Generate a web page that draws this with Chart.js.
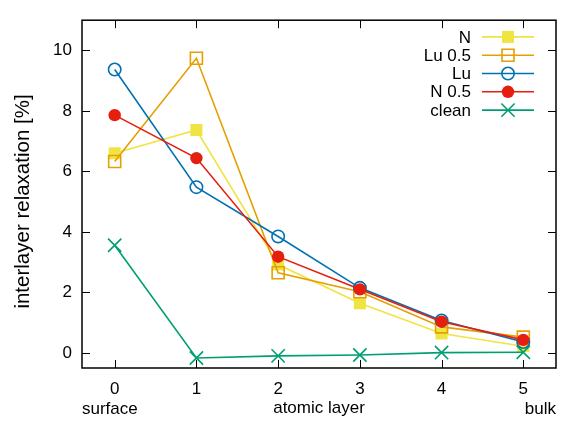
<!DOCTYPE html>
<html>
<head>
<meta charset="utf-8">
<script src="https://cdn.jsdelivr.net/npm/chart.js@4.4.0/dist/chart.umd.min.js"></script>
<style>
  html, body { margin: 0; padding: 0; background: #fff; }
  #wrap { width: 567px; height: 424px; }
</style>
</head>
<body>
<div id="wrap"><canvas id="relax-chart"></canvas></div>
<script>
// atomic layers (x) and tick labels
const layers = [0, 1, 2, 3, 4, 5];
const xTickLabels = ['0', '1', '2', '3', '4', '5'];
const yTickValues = [0, 2, 4, 6, 8, 10];

// series, in legend order
const seriesNames = ['N', 'Lu 0.5', 'Lu', 'N 0.5', 'clean'];
const nValues     = [6.6, 7.37, 2.92, 1.64, 0.64, 0.22];
const lu05Values  = [6.33, 9.74, 2.65, 2.02, 0.86, 0.52];
const luValues    = [9.37, 5.48, 3.85, 2.15, 1.07, 0.36];
const n05Values   = [7.86, 6.44, 3.18, 2.10, 1.03, 0.43];
const cleanValues = [3.56, -0.17, -0.10, -0.07, 0.01, 0.02];

const FONT = "'Liberation Sans', Arial, sans-serif";
Chart.defaults.font.family = FONT;
Chart.defaults.font.size = 17;
Chart.defaults.color = '#000';

// marker / line styles for each series
const styles = [
  { color: '#f0e442', shape: 'rect',     radius: 8.5, filled: true },
  { color: '#e69f00', shape: 'rect',     radius: 8.5, filled: false },
  { color: '#0072b2', shape: 'circle',   radius: 6.2, filled: false },
  { color: '#e51e10', shape: 'circle',   radius: 6.2, filled: true },
  { color: '#009e73', shape: 'crossRot', radius: 9.4, filled: false }
];
const allValues = [nValues, lu05Values, luValues, n05Values, cleanValues];

function toPoints(values) {
  return layers.map((x, i) => ({ x: x, y: values[i] }));
}

const datasets = seriesNames.map((name, i) => {
  const s = styles[i];
  return {
    label: name,
    data: toPoints(allValues[i]),
    borderColor: s.color,
    borderWidth: 1.6,
    pointStyle: s.shape,
    pointRadius: s.radius,
    pointBorderColor: s.color,
    pointBackgroundColor: s.filled ? s.color : 'rgba(0,0,0,0)',
    pointBorderWidth: s.filled ? 0 : 1.6,
    tension: 0,
    order: seriesNames.length - i // later series drawn on top
  };
});

// simple marker drawer, used for the legend samples
function drawMarker(ctx, s, x, y) {
  ctx.save();
  ctx.strokeStyle = s.color;
  ctx.fillStyle = s.color;
  ctx.lineWidth = 1.6;
  ctx.beginPath();
  if (s.shape === 'rect') {
    const h = s.radius * Math.SQRT1_2;
    ctx.rect(x - h, y - h, 2 * h, 2 * h);
  } else if (s.shape === 'circle') {
    ctx.arc(x, y, s.radius, 0, Math.PI * 2);
  } else {
    const d = s.radius * Math.SQRT1_2;
    ctx.moveTo(x - d, y - d); ctx.lineTo(x + d, y + d);
    ctx.moveTo(x - d, y + d); ctx.lineTo(x + d, y - d);
  }
  if (s.filled) ctx.fill(); else ctx.stroke();
  ctx.restore();
}

const framePlugin = {
  id: 'gnuplotFrame',
  afterDraw(chart) {
    const { ctx, chartArea: a, scales } = chart;
    const xs = scales.x, ys = scales.y;
    ctx.save();

    // inward ticks on all four sides
    ctx.strokeStyle = '#000';
    ctx.lineWidth = 1;
    ctx.beginPath();
    const tl = 8;
    layers.forEach(v => {
      const px = Math.round(xs.getPixelForValue(v)) + 0.5;
      ctx.moveTo(px, a.bottom); ctx.lineTo(px, a.bottom - tl);
      ctx.moveTo(px, a.top); ctx.lineTo(px, a.top + tl);
    });
    yTickValues.forEach(v => {
      const py = Math.round(ys.getPixelForValue(v)) + 0.5;
      ctx.moveTo(a.left, py); ctx.lineTo(a.left + tl, py);
      ctx.moveTo(a.right, py); ctx.lineTo(a.right - tl, py);
    });
    ctx.stroke();

    // frame
    ctx.lineWidth = 1.5;
    ctx.strokeRect(a.left, a.top, a.right - a.left, a.bottom - a.top);

    // legend, gnuplot style (text right-aligned, sample on the right)
    ctx.font = '17px ' + FONT;
    ctx.fillStyle = '#000';
    ctx.textAlign = 'right';
    ctx.textBaseline = 'middle';
    seriesNames.forEach((name, i) => {
      const y = a.top + 16.7 + i * 18.3;
      ctx.fillStyle = '#000';
      ctx.fillText(name, a.right - 85, y + 1);
      ctx.strokeStyle = styles[i].color;
      ctx.lineWidth = 1.6;
      ctx.beginPath();
      ctx.moveTo(a.right - 74, y);
      ctx.lineTo(a.right - 22, y);
      ctx.stroke();
      drawMarker(ctx, styles[i], a.right - 48, y);
    });

    // secondary x labels
    ctx.fillStyle = '#000';
    ctx.textBaseline = 'middle';
    ctx.textAlign = 'left';
    ctx.fillText('surface', a.left, 409);
    ctx.textAlign = 'right';
    ctx.fillText('bulk', a.right, 409);

    // y axis title
    ctx.font = '20.5px ' + FONT;
    ctx.translate(23, 201.5);
    ctx.rotate(-Math.PI / 2);
    ctx.textAlign = 'center';
    ctx.fillText('interlayer relaxation [%]', 0, 0);
    ctx.restore();
  }
};

new Chart(document.getElementById('relax-chart'), {
  type: 'line',
  data: { datasets: datasets },
  options: {
    responsive: true,
    maintainAspectRatio: false,
    animation: false,
    events: [],
    layout: { padding: { left: 0, right: 10, top: 6, bottom: 0 } },
    plugins: {
      legend: { display: false },
      tooltip: { enabled: false }
    },
    scales: {
      x: {
        type: 'linear',
        min: -0.4,
        max: 5.4,
        grid: { display: false, drawTicks: false },
        border: { display: false },
        afterBuildTicks: scale => { scale.ticks = layers.map(v => ({ value: v })); },
        afterFit: scale => { scale.height = 56; },
        ticks: {
          padding: 11,
          maxRotation: 0,
          callback: (v, i) => xTickLabels[i]
        },
        title: {
          display: true,
          text: 'atomic layer',
          padding: { top: 0, bottom: 5 }
        }
      },
      y: {
        min: -0.5,
        max: 11,
        grid: { display: false, drawTicks: false },
        border: { display: false },
        afterBuildTicks: scale => { scale.ticks = yTickValues.map(v => ({ value: v })); },
        afterFit: scale => { scale.width = 82; },
        ticks: { padding: 10 }
      }
    }
  },
  plugins: [framePlugin]
});
</script>
</body>
</html>
